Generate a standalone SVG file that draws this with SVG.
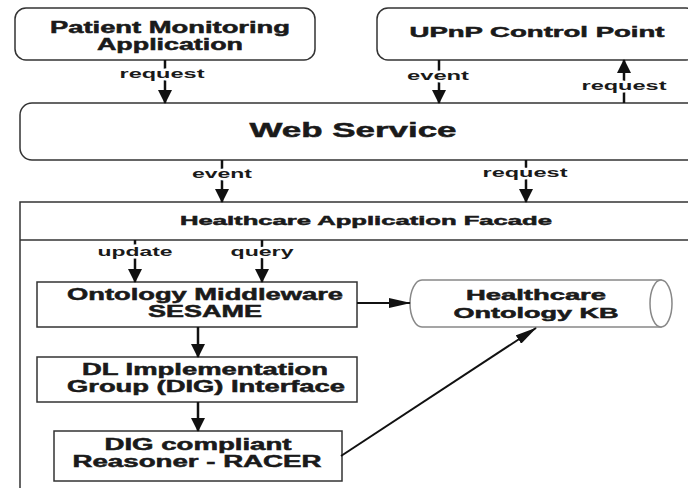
<svg xmlns="http://www.w3.org/2000/svg" width="688" height="488" viewBox="0 0 688 488">
<defs>
<marker id="ah" viewBox="0 0 14 14" refX="13" refY="7" markerWidth="14" markerHeight="14" markerUnits="userSpaceOnUse" orient="auto">
<path d="M0,0 L14,7 L0,14 Z" fill="#111"/>
</marker>
<marker id="ahl" viewBox="0 0 22 10" refX="21" refY="5" markerWidth="22" markerHeight="10" markerUnits="userSpaceOnUse" orient="auto">
<path d="M0,0 L22,5 L0,10 Z" fill="#111"/>
</marker>
<style>
text{font-family:"Liberation Sans",Arial,sans-serif;font-weight:bold;fill:#1a1a1a;text-anchor:middle}
.box{fill:#fff;stroke:#333;stroke-width:1.5}
.cyl{fill:#fff;stroke:#888;stroke-width:1.5}
.big{font-size:16px}
.hv{stroke:#1a1a1a;stroke-width:0.5px}
.lbl{font-size:13px;stroke:#fff;stroke-width:5px;paint-order:stroke;stroke-linejoin:round}
.con{stroke:#111;stroke-width:2.5;fill:none;marker-end:url(#ah)}
.conl{stroke:#111;stroke-width:2;fill:none;marker-end:url(#ahl)}
</style>
</defs>
<rect width="688" height="488" fill="#fff"/>

<g id="facade">
<rect class="box" x="20" y="202" width="700" height="320" stroke-width="2"/>
<line x1="20" y1="240" x2="688" y2="240" stroke="#333" stroke-width="1.5"/>
<text class="hv" x="366" y="225" font-size="13" textLength="372" lengthAdjust="spacingAndGlyphs">Healthcare Application Facade</text>
</g>

<g id="patient">
<rect class="box" x="15" y="8" width="300" height="52" rx="11"/>
<text class="big hv" x="170" y="33" textLength="240" lengthAdjust="spacingAndGlyphs">Patient Monitoring</text>
<text class="big hv" x="170" y="50" textLength="146" lengthAdjust="spacingAndGlyphs">Application</text>
</g>

<g id="upnp">
<rect class="box" x="377" y="8" width="320" height="52" rx="11"/>
<text class="hv" x="537" y="37" font-size="15" textLength="255" lengthAdjust="spacingAndGlyphs">UPnP Control Point</text>
</g>

<g id="webservice">
<rect class="box" x="20" y="103" width="680" height="57" rx="12"/>
<text class="hv" x="353" y="137" font-size="21" textLength="207" lengthAdjust="spacingAndGlyphs">Web Service</text>
</g>

<g id="ontology">
<rect class="box" x="37" y="282" width="320" height="45"/>
<text class="big hv" x="205" y="300" textLength="276" lengthAdjust="spacingAndGlyphs">Ontology Middleware</text>
<text class="big hv" x="205" y="317" textLength="114" lengthAdjust="spacingAndGlyphs">SESAME</text>
</g>

<g id="dig">
<rect class="box" x="37" y="357" width="320" height="45"/>
<text class="big hv" x="205" y="375" textLength="246" lengthAdjust="spacingAndGlyphs">DL Implementation</text>
<text class="big hv" x="206" y="392" textLength="278" lengthAdjust="spacingAndGlyphs">Group (DIG) Interface</text>
</g>

<g id="racer">
<rect class="box" x="54" y="431" width="288" height="50"/>
<text class="big hv" x="198" y="450" textLength="187" lengthAdjust="spacingAndGlyphs">DIG compliant</text>
<text class="big hv" x="197" y="467" textLength="249" lengthAdjust="spacingAndGlyphs">Reasoner - RACER</text>
</g>

<g id="kb">
<path class="cyl" d="M422,280 L661,280 L661,327 L422,327 A12,23.5 0 0 1 422,280 Z"/>
<ellipse class="cyl" cx="661" cy="303.5" rx="11" ry="23.5"/>
<text class="hv" x="536" y="300" font-size="14.5" textLength="140" lengthAdjust="spacingAndGlyphs">Healthcare</text>
<text class="hv" x="536" y="318" font-size="14.5" textLength="165" lengthAdjust="spacingAndGlyphs">Ontology KB</text>
</g>

<g id="connectors">
<line class="con" x1="165" y1="60" x2="165" y2="103"/>
<line class="con" x1="439" y1="60" x2="439" y2="103"/>
<line class="con" x1="624" y1="103" x2="624" y2="60"/>
<line class="con" x1="222" y1="160" x2="222" y2="202"/>
<line class="con" x1="526" y1="160" x2="526" y2="202"/>
<line class="con" x1="135" y1="240" x2="135" y2="282"/>
<line class="con" x1="262" y1="240" x2="262" y2="282"/>
<line class="con" x1="198" y1="327" x2="198" y2="357"/>
<line class="con" x1="198" y1="402" x2="198" y2="431"/>
<line class="conl" x1="357" y1="303" x2="410" y2="303"/>
<line class="conl" x1="341" y1="456" x2="536" y2="328"/>
<text class="lbl" x="162" y="78" textLength="85" lengthAdjust="spacingAndGlyphs">request</text>
<text class="lbl" x="438" y="80" textLength="62" lengthAdjust="spacingAndGlyphs">event</text>
<text class="lbl" x="624" y="90" textLength="85" lengthAdjust="spacingAndGlyphs">request</text>
<text class="lbl" x="222" y="178" textLength="60" lengthAdjust="spacingAndGlyphs">event</text>
<text class="lbl" x="525" y="177" textLength="85" lengthAdjust="spacingAndGlyphs">request</text>
<text class="lbl" x="135" y="256" textLength="75" lengthAdjust="spacingAndGlyphs">update</text>
<text class="lbl" x="262" y="256" textLength="63" lengthAdjust="spacingAndGlyphs">query</text>
</g>
</svg>
